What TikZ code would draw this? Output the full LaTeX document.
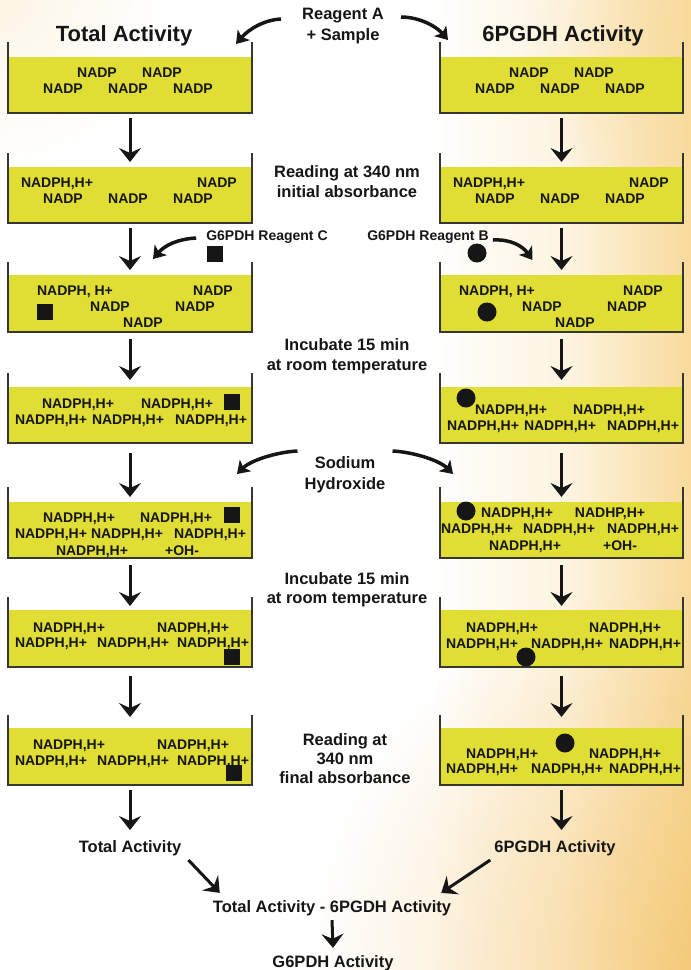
\documentclass[tikz,border=0pt]{standalone}
\usepackage{fontspec}
\setmainfont{Liberation Sans}
\usetikzlibrary{arrows.meta,fadings,calc}
\definecolor{liquid}{RGB}{224,221,52}
\definecolor{wallc}{RGB}{55,55,50}
\definecolor{ink}{RGB}{22,22,22}
\definecolor{bgA}{RGB}{253,244,224}
\definecolor{bgB}{RGB}{248,218,155}
\definecolor{bgC}{RGB}{242,190,95}
\pgfdeclarehorizontalshading{bgshade}{100bp}{color(0bp)=(white); color(25bp)=(white); color(56bp)=(white); color(66bp)=(bgA); color(75bp)=(bgB); color(100bp)=(bgB)}
\tikzfading[name=radfade, inner color=transparent!0, outer color=transparent!100]
\newcommand{\mkbeaker}[6]{%
  \node[liq, minimum width={#3-#2}, minimum height={#6-#5}] (#1) at ({(#2+#3)/2},{(#5+#6)/2}) {};
  \draw[wall] (#2,#4) -- (#2,#6) -- (#3,#6) -- (#3,#4);
}
\begin{document}
\begin{tikzpicture}[x=1pt,y=-1pt,
  liq/.style={fill=liquid, draw=none, inner sep=0pt, outer sep=0pt},
  wall/.style={draw=wallc, line width=1.8pt, line join=miter},
  tx/.style={inner sep=0pt, text=ink, font=\bfseries\fontsize{14}{16}\selectfont, text height=10pt, text depth=0pt},
  ti/.style={inner sep=0pt, text=ink, font=\bfseries\fontsize{22}{26}\selectfont, text height=15.8pt, text depth=0pt},
  bl/.style={inner sep=0pt, text=ink, font=\bfseries\fontsize{16.5}{20}\selectfont, text height=11.8pt, text depth=0pt},
  mid/.style={inner sep=0pt, text=ink, align=center, anchor=north},
  sq/.style={fill=ink, draw=none, minimum size=16pt, inner sep=0pt},
  ball/.style={circle, fill=ink, draw=none, minimum size=19pt, inner sep=0pt},
  dn/.style={draw=ink, line width=3pt, -{Stealth[length=14pt,width=22pt,inset=5pt]}},
  cv/.style={draw=ink, line width=3.5pt, -{Stealth[length=12pt,width=16pt,inset=3pt]}}
]
\useasboundingbox (0,0) rectangle (691,970);
% background
\shade[shading=bgshade] (0,0) rectangle (691,970);
\begin{scope}
\clip (0,0) rectangle (691,970);
\fill[bgC, opacity=0.55, path fading=radfade] (691,970) circle (380);
\fill[bgB, opacity=0.45, path fading=radfade] (691,40) circle (170);
\fill[bgA, opacity=0.8, path fading=radfade] (0,0) circle (170);
\end{scope}

% beakers
\mkbeaker{L1}{8}{252}{42}{57}{113}
\mkbeaker{R1}{440}{683}{42}{57}{113}
\mkbeaker{L2}{8}{252}{153}{167}{223}
\mkbeaker{R2}{440}{683}{153}{167}{223}
\mkbeaker{L3}{8}{252}{262}{275}{332}
\mkbeaker{R3}{440}{683}{262}{275}{332}
\mkbeaker{L4}{8}{252}{373}{387}{443}
\mkbeaker{R4}{440}{683}{373}{387}{443}
\mkbeaker{L5}{8}{252}{487}{502}{558}
\mkbeaker{R5}{440}{683}{487}{502}{558}
\mkbeaker{L6}{8}{252}{597}{610}{667}
\mkbeaker{R6}{440}{683}{597}{610}{667}
\mkbeaker{L7}{8}{252}{715}{728}{785}
\mkbeaker{R7}{440}{683}{715}{728}{785}

% titles
\node[ti] (tL) at (124,33.5) {Total Activity};
\node[ti] (tR) at (563,33.5) {6PGDH Activity};

% beaker 1
\node[tx] (l1a) at (97,72) {NADP};
\node[tx] (l1b) at (162,72) {NADP};
\node[tx] (l1c) at (63,88) {NADP};
\node[tx] (l1d) at (128,88) {NADP};
\node[tx] (l1e) at (193,88) {NADP};
\node[tx] (r1a) at (529,72) {NADP};
\node[tx] (r1b) at (594,72) {NADP};
\node[tx] (r1c) at (495,88) {NADP};
\node[tx] (r1d) at (560,88) {NADP};
\node[tx] (r1e) at (625,88) {NADP};
% beaker 2
\node[tx] (l2a) at (57,182) {NADPH,H+};
\node[tx] (l2b) at (217,182) {NADP};
\node[tx] (l2c) at (63,198) {NADP};
\node[tx] (l2d) at (128,198) {NADP};
\node[tx] (l2e) at (193,198) {NADP};
\node[tx] (r2a) at (489,182) {NADPH,H+};
\node[tx] (r2b) at (649,182) {NADP};
\node[tx] (r2c) at (495,198) {NADP};
\node[tx] (r2d) at (560,198) {NADP};
\node[tx] (r2e) at (625,198) {NADP};
% beaker 3
\node[tx] (l3a) at (75,290) {NADPH, H+};
\node[tx] (l3b) at (213,290) {NADP};
\node[tx] (l3c) at (110,306) {NADP};
\node[tx] (l3d) at (195,306) {NADP};
\node[tx] (l3e) at (143,322) {NADP};
\node[sq] (l3s) at (45,312) {};
\node[tx] (r3a) at (497,290) {NADPH, H+};
\node[tx] (r3b) at (643,290) {NADP};
\node[tx] (r3c) at (542,306) {NADP};
\node[tx] (r3d) at (627,306) {NADP};
\node[tx] (r3e) at (575,322) {NADP};
\node[ball] (r3s) at (487,312) {};
% beaker 4
\node[tx] (l4a) at (78,403) {NADPH,H+};
\node[tx] (l4b) at (177,403) {NADPH,H+};
\node[tx] (l4c) at (51,419) {NADPH,H+};
\node[tx] (l4d) at (128,419) {NADPH,H+};
\node[tx] (l4e) at (211,419) {NADPH,H+};
\node[sq] (l4s) at (232,402) {};
\node[tx] (r4a) at (511,409) {NADPH,H+};
\node[tx] (r4b) at (609,409) {NADPH,H+};
\node[tx] (r4c) at (483,425) {NADPH,H+};
\node[tx] (r4d) at (560,425) {NADPH,H+};
\node[tx] (r4e) at (643,425) {NADPH,H+};
\node[ball] (r4s) at (466,398) {};
% beaker 5
\node[tx] (l5a) at (79,517) {NADPH,H+};
\node[tx] (l5b) at (176,517) {NADPH,H+};
\node[tx] (l5c) at (51,533) {NADPH,H+};
\node[tx] (l5d) at (127,533) {NADPH,H+};
\node[tx] (l5e) at (210,533) {NADPH,H+};
\node[tx] (l5f) at (92,550) {NADPH,H+};
\node[tx] (l5g) at (182,550) {+OH-};
\node[sq] (l5s) at (232,515) {};
\node[tx] (r5a) at (517,512) {NADPH,H+};
\node[tx] (r5b) at (610,512) {NADHP,H+};
\node[tx] (r5c) at (477,528) {NADPH,H+};
\node[tx] (r5d) at (559,528) {NADPH,H+};
\node[tx] (r5e) at (643,528) {NADPH,H+};
\node[tx] (r5f) at (525,545) {NADPH,H+};
\node[tx] (r5g) at (620,545) {+OH-};
\node[ball] (r5s) at (466,511) {};
% beaker 6
\node[tx] (l6a) at (69,627) {NADPH,H+};
\node[tx] (l6b) at (193,627) {NADPH,H+};
\node[tx] (l6c) at (51,642) {NADPH,H+};
\node[tx] (l6d) at (133,642) {NADPH,H+};
\node[tx] (l6e) at (213,642) {NADPH,H+};
\node[sq] (l6s) at (232,657) {};
\node[tx] (r6a) at (502,627) {NADPH,H+};
\node[tx] (r6b) at (625,627) {NADPH,H+};
\node[tx] (r6c) at (482,643) {NADPH,H+};
\node[tx] (r6d) at (567,643) {NADPH,H+};
\node[tx] (r6e) at (645,643) {NADPH,H+};
\node[ball] (r6s) at (526,657) {};
% beaker 7
\node[tx] (l7a) at (69,744) {NADPH,H+};
\node[tx] (l7b) at (193,744) {NADPH,H+};
\node[tx] (l7c) at (51,760) {NADPH,H+};
\node[tx] (l7d) at (133,760) {NADPH,H+};
\node[tx] (l7e) at (213,760) {NADPH,H+};
\node[sq] (l7s) at (234,773) {};
\node[tx] (r7a) at (502,753) {NADPH,H+};
\node[tx] (r7b) at (625,753) {NADPH,H+};
\node[tx] (r7c) at (482,768) {NADPH,H+};
\node[tx] (r7d) at (567,768) {NADPH,H+};
\node[tx] (r7e) at (645,768) {NADPH,H+};
\node[ball] (r7s) at (565,743) {};

% middle labels
\node[mid, font=\bfseries\fontsize{16.5}{21}\selectfont] (rA) at (343,8) {Reagent A\\+ Sample};
\node[mid, font=\bfseries\fontsize{16.5}{20}\selectfont] (read1) at (347,165) {Reading at 340 nm\\initial absorbance};
\node[tx] (rcC) at (267,235) {G6PDH Reagent C};
\node[tx] (rcB) at (428,235) {G6PDH Reagent B};
\node[sq] (sqC) at (215,254) {};
\node[ball] (ballB) at (477,253) {};
\node[mid, font=\bfseries\fontsize{16.5}{20}\selectfont] (inc1) at (347,338) {Incubate 15 min\\at room temperature};
\node[mid, font=\bfseries\fontsize{16.5}{21}\selectfont] (naoh) at (345,456) {Sodium\\Hydroxide};
\node[mid, font=\bfseries\fontsize{16.5}{19}\selectfont] (inc2) at (347,572) {Incubate 15 min\\at room temperature};
\node[mid, font=\bfseries\fontsize{16.5}{19}\selectfont] (read2) at (345,733) {Reading at\\340 nm\\final absorbance};

% bottom labels
\node[bl] (totL) at (130,847) {Total Activity};
\node[bl] (totR) at (555,847) {6PGDH Activity};
\node[bl] (diff) at (332,907) {Total Activity - 6PGDH Activity};
\node[bl] (g6) at (333,962) {G6PDH Activity};

% vertical arrows
\draw[dn] ($(L1.south)+(0,5)$) -- ($(L2.north)+(0,-5)$);
\draw[dn] ($(R1.south)+(0,5)$) -- ($(R2.north)+(0,-5)$);
\draw[dn] ($(L2.south)+(0,5)$) -- ($(L3.north)+(0,-5)$);
\draw[dn] ($(R2.south)+(0,5)$) -- ($(R3.north)+(0,-5)$);
\draw[dn] ($(L3.south)+(0,7)$) -- ($(L4.north)+(0,-7)$);
\draw[dn] ($(R3.south)+(0,7)$) -- ($(R4.north)+(0,-7)$);
\draw[dn] ($(L4.south)+(0,10)$) -- ($(L5.north)+(0,-5)$);
\draw[dn] ($(R4.south)+(0,10)$) -- ($(R5.north)+(0,-5)$);
\draw[dn] ($(L5.south)+(0,7)$) -- ($(L6.north)+(0,-4)$);
\draw[dn] ($(R5.south)+(0,7)$) -- ($(R6.north)+(0,-4)$);
\draw[dn] ($(L6.south)+(0,9)$) -- ($(L7.north)+(0,-11)$);
\draw[dn] ($(R6.south)+(0,9)$) -- ($(R7.north)+(0,-11)$);
\draw[dn] ($(L7.south)+(0,5)$) -- ($(L7.south)+(0,45)$) coordinate (endL);
\draw[dn] ($(R7.south)+(0,5)$) -- ($(R7.south)+(0,45)$) coordinate (endR);

% curved arrows
\draw[cv] ($(rA.north west)+(-21,11)$) .. controls +(-18,1) and +(12,-14) .. ($(L1.north east)+(-16,-13)$);
\draw[cv] ($(rA.north east)+(17,9)$) .. controls +(18,0) and +(-12,-14) .. ($(R1.north west)+(8,-17)$);
\draw[cv] ($(rcC.west)+(-10,3)$) .. controls +(-18,1) and +(12,-14) .. ($(L3.north)+(23,-16)$);
\draw[cv] ($(rcB.east)+(4,5)$) .. controls +(18,-1) and +(-10,-14) .. ($(R3.north)+(-29,-15)$);
\draw[cv] ($(naoh.north west)+(-7,-5)$) .. controls +(-20,1) and +(14,-14) .. ($(L5.north east)+(-15,-28)$);
\draw[cv] ($(naoh.north east)+(7,-5)$) .. controls +(20,1) and +(-14,-14) .. ($(R5.north west)+(13,-28)$);

% bottom arrows
\draw[dn] ($(totL.east)+(7,13)$) -- ($(diff.north west)+(7,-8)$);
\draw[dn] ($(totR.west)+(-4,13)$) -- ($(diff.north east)+(-10,-8)$);
\draw[dn] ($(diff.south)+(0,7)$) -- ($(g6.north)+(0,-8)$);
\end{tikzpicture}
\end{document}
